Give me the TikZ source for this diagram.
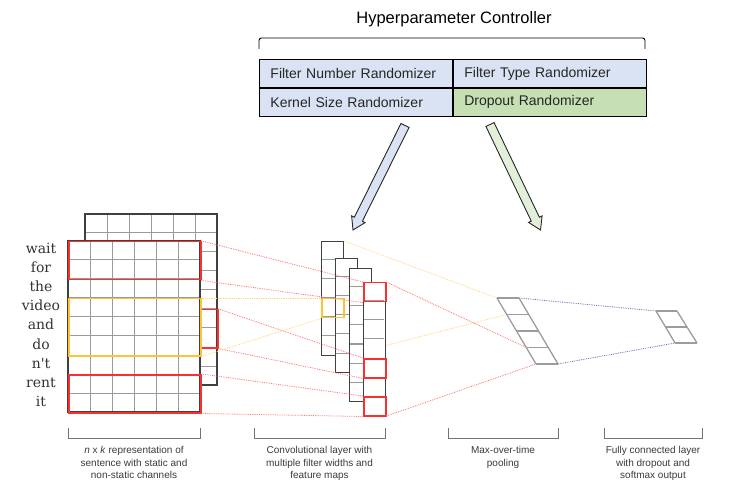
\documentclass[tikz,border=0pt]{standalone}
\usepackage{fontspec}
\setmainfont{Liberation Sans}
\newfontfamily\wordfont[Ligatures=TeXOff]{DejaVu Serif}
\usetikzlibrary{positioning,calc,backgrounds}

\definecolor{cellblue}{HTML}{DAE3F3}
\definecolor{cellgreen}{HTML}{C6E0B4}
\definecolor{arrowblue}{HTML}{DAE3F3}
\definecolor{arrowgreen}{HTML}{E2F0D9}
\definecolor{boxred}{HTML}{FF2E2E}
\definecolor{boxyellow}{HTML}{FFC233}
\definecolor{linkred}{HTML}{FF6E6E}
\definecolor{linkyellow}{HTML}{FFD470}
\definecolor{linkblue}{HTML}{5B73A6}
\definecolor{framegray}{HTML}{404040}
\definecolor{cellgray}{HTML}{9A9A9A}
\definecolor{poolgray}{HTML}{9C9C9C}
\definecolor{captext}{HTML}{3A3A3A}

\begin{document}
\begin{tikzpicture}[x=1pt, y=-1pt,
    randcell/.style={draw, line width=0.9pt, minimum height=28pt, inner xsep=11pt, inner ysep=0pt, text width=171pt, align=left, text=black!85, font=\fontsize{14}{16}\selectfont},
    word/.style={font=\wordfont\fontsize{14}{16}\selectfont, text=black!80, inner sep=0pt, text height=10pt, text depth=3pt},
    gridline/.style={cellgray, line width=1pt},
    frame/.style={draw=framegray, line width=1.1pt},
    redbox/.style={draw=boxred, line width=1.5pt, inner sep=0pt, anchor=north west, minimum width=132pt},
    yellowbox/.style={redbox, draw=boxyellow},
    convcol/.style={frame, fill=white, inner sep=0pt, anchor=north west, minimum width=22pt},
    redcell/.style={draw=boxred, line width=1.5pt, inner sep=0pt, anchor=north west, minimum width=22pt, minimum height=19pt},
    yellowcell/.style={redcell, draw=boxyellow},
    redlink/.style={linkred, densely dotted, line width=0.8pt},
    yellowlink/.style={linkyellow, densely dotted, line width=0.8pt},
    bluelink/.style={linkblue, densely dotted, line width=0.8pt},
    poolline/.style={poolgray, line width=1.3pt},
    bracket/.style={draw=black!55, line width=0.8pt},
    caption/.style={anchor=north, align=center, inner sep=0pt, text=captext, font=\fontsize{10}{12.5}\selectfont},
    fatarrow/.style={draw=black!85, line width=0.9pt, line join=miter}]

  \useasboundingbox (0,0) rectangle (739,494);

  % hyperparameter controller
  \node at (454,23.5)[anchor=base, font=\fontsize{16.5}{20}\selectfont] (title){Hyperparameter Controller};
  \draw[line width=0.9pt, rounded corners=2.5pt] (259,49) -- (259,38) -- (645,38) -- (645,49);
  \node at (259,59)[randcell, fill=cellblue, anchor=north west] (fnum){Filter Number Randomizer};
  \node[randcell, fill=cellblue, right=0pt of fnum] (ftype){Filter Type Randomizer};
  \node[randcell, fill=cellblue, below=0pt of fnum] (ksize){Kernel Size Randomizer};
  \node[randcell, fill=cellgreen, right=0pt of ksize] (drop){Dropout Randomizer};

  % arrows from the controller down to the layers
  \coordinate (blue-tail) at (405,125.5);
  \coordinate (blue-tip) at (353,230);
  \coordinate (green-tail) at (490,124.5);
  \coordinate (green-tip) at (540.5,230);
  \foreach \a/\col in {blue/arrowblue, green/arrowgreen} {
    \coordinate (\a-head) at ($(\a-tip)!12pt!(\a-tail)$);
    \draw[fatarrow, fill=\col] ($(\a-tail)!4.5pt!90:(\a-tip)$) -- ($(\a-head)!4.5pt!90:(\a-tip)$)
      -- ($(\a-head)!7.5pt!90:(\a-tip)$) -- (\a-tip) -- ($(\a-head)!7.5pt!-90:(\a-tip)$)
      -- ($(\a-head)!4.5pt!-90:(\a-tip)$) -- ($(\a-tail)!4.5pt!-90:(\a-tip)$) -- cycle;
  }

  % sentence matrix, back channel
  \fill[white] (85,214) rectangle (217,385);
  \foreach \i in {1,...,5} \draw[gridline] (85+22*\i,214) -- ++(0,171);
  \foreach \j in {1,...,8} \draw[gridline] (85,214+19*\j) -- ++(132,0);
  \draw[frame] (85,214) rectangle (217,385);
  \node at (85,309)[redbox, minimum height=38pt] (rb){};
  % front channel
  \fill[white] (68,241) rectangle (200,412);
  \foreach \i in {1,...,5} \draw[gridline] (68+22*\i,241) -- ++(0,171);
  \foreach \j in {1,...,8} \draw[gridline] (68,241+19*\j) -- ++(132,0);
  \draw[frame] (68,241) rectangle (200,412);
  \node at (68,241)[redbox, minimum height=38pt] (r1){};
  \node at (68,298)[yellowbox, minimum height=57pt] (yb){};
  \node at (68,374)[redbox, minimum height=38pt] (r2){};

  \foreach \w [count=\k] in {wait,for,the,video,and,do,n't,rent,it}
    \node at (41,231.5+19*\k)[word] (w\k){\w};

  % convolutional layer
  \foreach \cx/\cy/\last/\nm in {321/241/5/c1, 335/258/5/c2, 349/268/6/c3, 363/282/6/c4} {
    \node at (\cx,\cy)[convcol, minimum height={19pt*(\last+1)}] (\nm){};
    \foreach \r in {1,...,\last} \draw[gridline] (\cx+0.6,\cy+19*\r) -- ++(20.8,0);
  }
  \node at (321,298)[yellowcell] (y1){};
  \node at (363,282)[redcell] (f1){};
  \node at (363,358)[redcell] (f5){};
  \node at (363,396)[redcell] (f7){};

  \draw[redlink] (r1.north east) -- (f1.north west);
  \draw[redlink] (r1.south east) -- (f1.south west);
  \draw[redlink] (rb.north east) -- (f5.north west);
  \draw[redlink] (rb.south east) -- (f5.south west);
  \draw[redlink] (r2.north east) -- (f7.north west);
  \draw[redlink] (r2.south east) -- (f7.south west);
  \draw[yellowlink] (yb.north east) -- (y1.north west);
  \draw[yellowlink] (yb.south east) -- (y1.south west);

  % max-over-time pooling and fully connected layer
  \foreach \k in {0,...,4} {
    \coordinate (pool-l\k) at ($(497,298)!\k/4!(536,364)$);
    \coordinate (pool-r\k) at ($(519,298)!\k/4!(558,364)$);
  }
  \foreach \k in {0,1,2} {
    \coordinate (fc-l\k) at ($(656,311)!\k/2!(675,343)$);
    \coordinate (fc-r\k) at ($(677,311)!\k/2!(697,343)$);
  }
  \draw[yellowlink] (c1.north east) -- (pool-l0);
  \begin{scope}[on background layer]
    \draw[yellowlink] (c1.south east) -- (pool-l1);
  \end{scope}
  \draw[redlink] (c4.north east) -- (pool-l3);
  \draw[redlink] (c4.south east) -- (pool-l4);
  \draw[bluelink] (pool-r0) -- (fc-l0);
  \draw[bluelink] (pool-r4) -- (fc-l2);

  \draw[poolline] (pool-l0) -- (pool-l4) (pool-r0) -- (pool-r4);
  \foreach \k in {0,...,4} \draw[poolline] (pool-l\k) -- (pool-r\k);
  \draw[poolline] (fc-l0) -- (fc-l2) (fc-r0) -- (fc-r2);
  \foreach \k in {0,1,2} \draw[poolline] (fc-l\k) -- (fc-r\k);

  % captions
  \foreach \bl/\br/\nm in {68/200/b1, 254/385/b2, 448/558/b3, 604/702/b4} {
    \draw[bracket] (\bl,428) -- (\bl,438) -- (\br,438) -- (\br,428);
    \coordinate (\nm) at ({(\bl+\br)/2},446.5);
  }
  \node at (b1)[caption] (cap1){\textit{n} x \textit{k} representation of\\sentence with static and\\non-static channels};
  \node at (b2)[caption] (cap2){Convolutional layer with\\multiple filter widths and\\feature maps};
  \node at (b3)[caption] (cap3){Max-over-time\\pooling};
  \node at (b4)[caption] (cap4){Fully connected layer\\with dropout and\\softmax output};
\end{tikzpicture}
\end{document}
